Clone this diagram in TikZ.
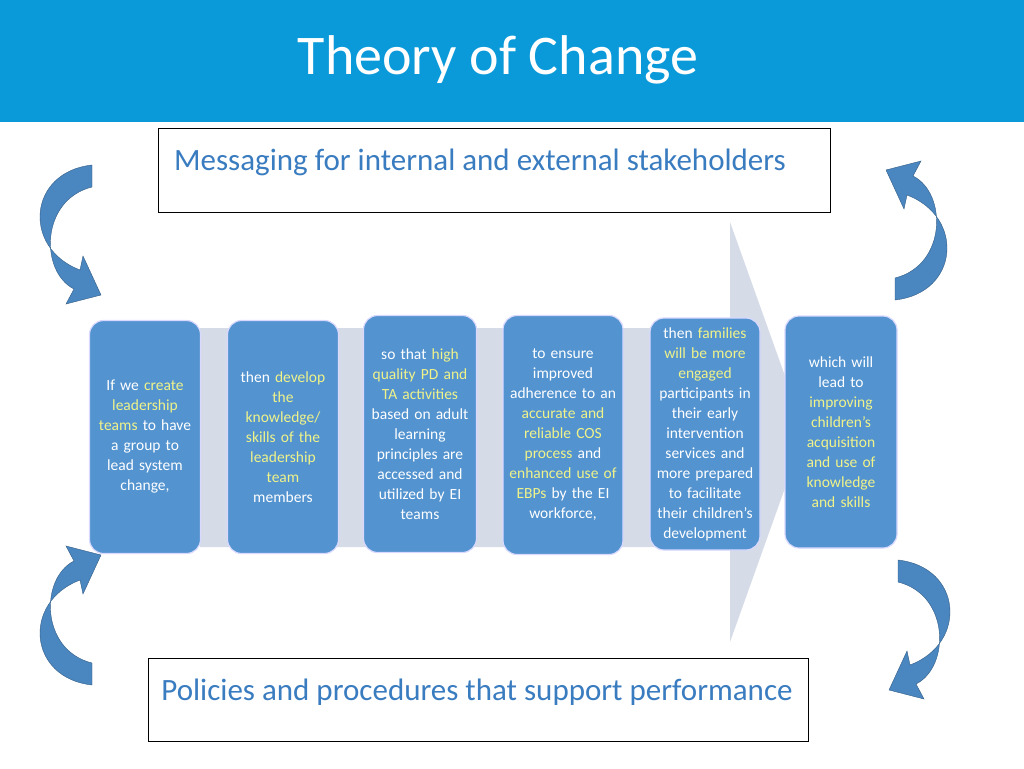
\documentclass[tikz,border=0pt]{standalone}
\usepackage{fontspec}
\setmainfont{Carlito}
\begin{document}
\begin{tikzpicture}[x=1pt,y=-1pt,
  stepbox/.style={draw=white!85!blue, line width=1.2pt, fill=boxblue, rounded corners=14pt, text=white, align=center, font=\fontsize{15.5}{20}\selectfont, inner sep=2pt},
  msgbox/.style={draw=black, line width=0.6pt, fill=white},
  msgtext/.style={text=msgblue, font=\fontsize{31}{36}\selectfont}]
\definecolor{hdr}{HTML}{0B9AD9}
\definecolor{boxblue}{HTML}{5393CF}
\definecolor{band}{HTML}{D5DCE8}
\definecolor{hy}{HTML}{F0F38A}
\definecolor{msgblue}{HTML}{3A7CC0}
\definecolor{arr}{HTML}{4A86C0}
\newcommand\Y[1]{\textcolor{hy}{#1}}
\newcommand\curvarrow{%
  \fill[arr, draw=arr!70!black, line width=0.4pt] (92,165) .. controls (28,172) and (22,248) .. (80,270) -- (83,256) -- (101,295) -- (66,304) -- (74,289) .. controls (40,272) and (40,200) .. (92,187) -- cycle;}
\useasboundingbox (0,0) rectangle (1024,768);
\fill[white] (0,0) rectangle (1024,768);
\fill[hdr] (0,0) rectangle (1024,122);
\node[text=white, font=\fontsize{56}{62}\selectfont] (title) at (498,60) {Theory of Change};
\node[msgbox, minimum width=672pt, minimum height=84pt] (top) at (494,170) {};
\node[msgtext] (toptext) at (480,162) {Messaging for internal and external stakeholders};
\node[msgbox, minimum width=660pt, minimum height=83pt] (bot) at (478,700) {};
\node[msgtext] (bottext) at (477,692) {Policies and procedures that support performance};
% big arrow
\fill[band] (200,328) -- (730,328) -- (730,222) -- (805,432) -- (730,642) -- (730,547) -- (200,547) -- cycle;
% curved arrows
\curvarrow
\begin{scope}[shift={(0,850)}, yscale=-1]\curvarrow\end{scope}
\begin{scope}[shift={(987,465)}, xscale=-1, yscale=-1]\curvarrow\end{scope}
\begin{scope}[shift={(990,395)}, xscale=-1]\curvarrow\end{scope}
% boxes
\node[stepbox, minimum width=111pt, minimum height=233pt, text width=100pt] (b1) at (145,437) {If we \Y{create}\\\Y{leadership}\\\Y{teams} to have\\a group to\\lead system\\change,};
\node[stepbox, minimum width=111pt, minimum height=233pt, text width=100pt] (b2) at (283,437) {then \Y{develop}\\\Y{the}\\\Y{knowledge/}\\\Y{skills of the}\\\Y{leadership}\\\Y{team}\\members};
\node[stepbox, minimum width=113pt, minimum height=237pt, text width=104pt] (b3) at (420,434) {so that \Y{high}\\\Y{quality PD and}\\\Y{TA activities}\\based on adult\\learning\\principles are\\accessed and\\utilized by EI\\teams};
\node[stepbox, minimum width=120pt, minimum height=239pt, text width=112pt] (b4) at (563,435) {to ensure\\improved\\adherence to an\\\Y{accurate and}\\\Y{reliable COS}\\\Y{process} and\\\Y{enhanced use of}\\\Y{EBPs} by the EI\\workforce,};
\node[stepbox, minimum width=110pt, minimum height=232pt, text width=104pt] (b5) at (705,434) {then \Y{families}\\\Y{will be more}\\\Y{engaged}\\participants in\\their early\\intervention\\services and\\more prepared\\to facilitate\\their children's\\development};
\node[stepbox, minimum width=112pt, minimum height=232pt, text width=104pt] (b6) at (841,432) {which will\\lead to\\\Y{improving}\\\Y{children's}\\\Y{acquisition}\\\Y{and use of}\\\Y{knowledge}\\\Y{and skills}};
\end{tikzpicture}
\end{document}
